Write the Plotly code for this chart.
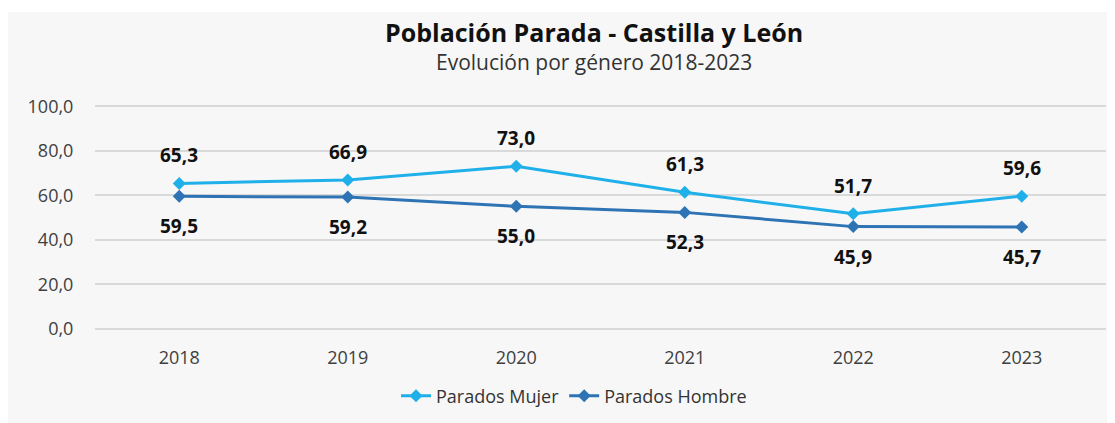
import plotly.graph_objects as go

# ---------------------------------------------------------------------------
# Data
# ---------------------------------------------------------------------------
YEARS = ["2018", "2019", "2020", "2021", "2022", "2023"]
PARADOS_MUJER = [65.3, 66.9, 73.0, 61.3, 51.7, 59.6]
PARADOS_HOMBRE = [59.5, 59.2, 55.0, 52.3, 45.9, 45.7]
Y_TICKS = [0, 20, 40, 60, 80, 100]

COLOUR_MUJER = "#1fb0ea"
COLOUR_HOMBRE = "#2e74b5"
FONT = "Open Sans"

# the page body adds an 8px margin; plot area sits at x 95..1106, y 104..331 on screen
PX_L, PX_R, PX_T, PX_B = 95, 1106, 104, 331
PW, PH = PX_R - PX_L, PX_B - PX_T


def px_x(x):
    return (x - PX_L) / PW


def px_y(y):
    return (PX_B - y) / PH


def fmt(v: float) -> str:
    return f"{v:.1f}".replace(".", ",")


fig = go.Figure()
fig.add_trace(
    go.Scatter(
        x=YEARS, y=PARADOS_MUJER, name="Parados Mujer", mode="lines+markers",
        line=dict(color=COLOUR_MUJER, width=3),
        marker=dict(symbol="diamond", size=10, color=COLOUR_MUJER),
    )
)
fig.add_trace(
    go.Scatter(
        x=YEARS, y=PARADOS_HOMBRE, name="Parados Hombre", mode="lines+markers",
        line=dict(color=COLOUR_HOMBRE, width=3),
        marker=dict(symbol="diamond", size=10, color=COLOUR_HOMBRE),
    )
)

# data labels: women above, men below (x given as category index)
label_font = dict(family=FONT, size=19, color="#111111", weight="bold")
for i, v in enumerate(PARADOS_MUJER):
    fig.add_annotation(x=i, y=v, text=fmt(v), showarrow=False, yshift=28, font=label_font)
for i, v in enumerate(PARADOS_HOMBRE):
    fig.add_annotation(x=i, y=v, text=fmt(v), showarrow=False, yshift=-30, font=label_font)

# titles
fig.add_annotation(
    xref="paper", yref="paper", x=px_x(594), y=px_y(32),
    text="<b>Población Parada - Castilla y León</b>", showarrow=False,
    font=dict(family=FONT, size=25, color="#111111"), xanchor="center", yanchor="middle",
)
fig.add_annotation(
    xref="paper", yref="paper", x=px_x(594), y=px_y(62),
    text="Evolución por género 2018-2023", showarrow=False,
    font=dict(family=FONT, size=21, color="#333333"), xanchor="center", yanchor="middle",
)

# light panel behind the chart
fig.add_shape(
    type="rect", xref="paper", yref="paper", layer="below",
    x0=px_x(8), x1=px_x(1120), y0=px_y(430), y1=px_y(12),
    fillcolor="#f7f7f7", line=dict(width=0),
)

fig.update_layout(
    width=1107,
    height=415,
    margin=dict(l=PX_L - 8, r=1107 - (PX_R - 8), t=PX_T - 8, b=415 - (PX_B - 8)),
    paper_bgcolor="white",
    plot_bgcolor="rgba(0,0,0,0)",
    separators=",.",
    font=dict(family=FONT, size=18, color="#404040"),
    showlegend=True,
    legend=dict(
        orientation="h", x=px_x(574), xanchor="center",
        y=px_y(396), yanchor="middle",
        font=dict(family=FONT, size=18, color="#333333"),
        bgcolor="rgba(0,0,0,0)",
    ),
    xaxis=dict(
        type="category", range=[-0.5, 5.5], showgrid=False, zeroline=False,
        showline=False, ticks="outside", ticklen=10, tickcolor="rgba(0,0,0,0)",
        tickfont=dict(family=FONT, size=18, color="#404040"),
    ),
    yaxis=dict(
        range=[-1, 101], tickvals=Y_TICKS, tickformat=".1f", showgrid=True,
        gridcolor="#d9d9d9", gridwidth=1.5, zeroline=True, zerolinecolor="#d9d9d9",
        zerolinewidth=1.5, showline=False,
        ticks="outside", ticklen=17, tickcolor="rgba(0,0,0,0)",
        tickfont=dict(family=FONT, size=18, color="#404040"),
    ),
)

fig.write_html("out.html")
